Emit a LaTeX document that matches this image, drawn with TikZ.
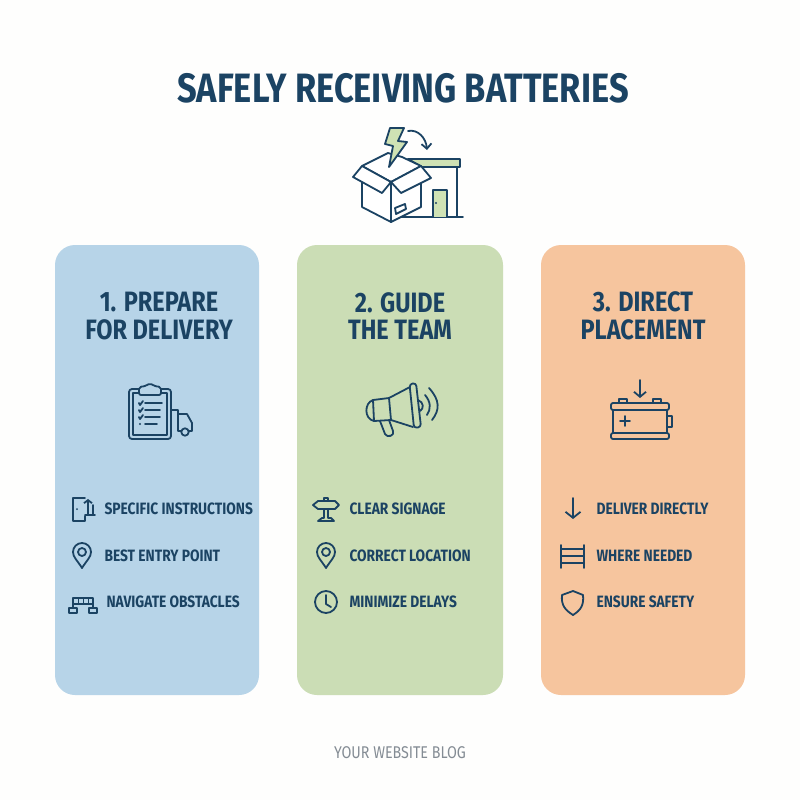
\documentclass[tikz,border=0pt]{standalone}
\usepackage{fontspec}
\setmainfont{Fira Sans}[FakeStretch=0.84]
\usetikzlibrary{arrows.meta,positioning}
\definecolor{inkblue}{HTML}{1B4363}
\definecolor{cardblue}{HTML}{B7D4E8}
\definecolor{cardgreen}{HTML}{CBDDB5}
\definecolor{cardorange}{HTML}{F6C59E}
\definecolor{iconlime}{HTML}{CFE2B4}
\definecolor{footgray}{HTML}{848C94}
\tikzset{
    card/.style={draw=none, rounded corners=20pt},
    icon/.style={draw=inkblue, line width=1.8pt, line join=round, line cap=round},
    headline/.style={text=inkblue, font=\bfseries\fontsize{28}{27.5}\selectfont, align=center},
    item/.style={text=inkblue, anchor=west, font=\bfseries\fontsize{16.4}{18}\selectfont},
}
\begin{document}
\begin{tikzpicture}[x=1pt,y=-1pt]
    \useasboundingbox (0,0) rectangle (800,800);
    \fill[white!98!cardgreen] (0,0) rectangle (800,800);

    % Title
    \node[text=inkblue, font=\bfseries\fontsize{41}{42}\selectfont] (title) at (403,88) {SAFELY RECEIVING BATTERIES};

    % Top icon
    \draw[icon, fill=iconlime] (408,159) -- (460,159) -- (460,167) -- (422,167) -- cycle;
    \draw[icon] (457,167) -- (457,217);
    \draw[icon] (397,217) -- (463,217);
    \draw[icon, fill=iconlime] (433,217) -- (433,190) -- (447,190) -- (447,217);
    \fill[inkblue] (436,203) circle (1.2);
    \draw[icon, fill=white] (362,166) -- (388,153) -- (402,157) -- (421,166) -- (391,182) -- cycle;
    \draw[icon, fill=white] (362,177) -- (362,207) -- (391,222) -- (421,207) -- (421,177) -- (391,182) -- cycle;
    \draw[icon] (391,182) -- (391,222);
    \draw[icon, fill=white] (362,166) -- (391,182) -- (382,193) -- (353,177) -- cycle;
    \draw[icon, fill=white] (421,166) -- (391,182) -- (401,193) -- (431,178) -- cycle;
    \draw[icon] (395,208) -- (405,204) -- (406,209) -- (396,214) -- cycle;
    \draw[icon, fill=iconlime] (390,128) -- (404,128) -- (398,141) -- (407,142) -- (389,167) -- (393,146) -- (385,144) -- cycle;
    \draw[icon, -{Straight Barb[length=5pt,width=10pt]}] (408,131) .. controls (418,129) and (426,138) .. (427,150);

    % Cards
    \fill[card, cardblue] (55,245) rectangle (259,695);
    \fill[card, cardgreen] (297,245) rectangle (503,695);
    \fill[card, cardorange] (541,245) rectangle (745,695);

    \node[headline] (headA) at (159,316) {1. PREPARE\\FOR DELIVERY};
    \node[headline] (headB) at (400,316) {2. GUIDE\\THE TEAM};
    \node[headline] (headC) at (643,316) {3. DIRECT\\PLACEMENT};

    % Clipboard and truck
    \draw[icon, rounded corners=3pt] (129,389) rectangle (171,439);
    \draw[icon] (133,393) rectangle (167,435);
    \draw[icon, fill=cardblue, rounded corners=2pt] (139,395) -- (139,387) -- (146,386) -- (150,383) -- (154,386) -- (161,387) -- (161,395) -- cycle;
    \draw[icon] (145,403) -- (162,403);
    \draw[icon] (145,410) -- (160,410);
    \draw[icon] (145,417) -- (160,417);
    \draw[icon] (145,424) -- (157,424);
    \draw[icon] (139,403) -- (140,405) -- (143,401);
    \draw[icon] (139,410) -- (140,412) -- (143,408);
    \draw[icon] (139,417) -- (140,419) -- (143,415);
    \fill[inkblue] (140,424) circle (1.2);
    \draw[icon] (171,410) -- (178,410) -- (178,431) -- (181,431);
    \draw[icon] (179,414) -- (187,414) -- (192,423) -- (192,431) -- (189,431);
    \draw[icon] (185,432) circle (3.7);

    % Megaphone
    \draw[icon] (389,398) -- (373,400) .. controls (364,403) and (364,419) .. (374,421) -- (391,420) -- cycle;
    \draw[icon] (373,400) -- (374,421);
    \draw[icon] (389,398) -- (410,387);
    \draw[icon] (391,420) -- (413,427);
    \draw[icon, rounded corners=3pt] (409.5,384) -- (416,383) -- (421,427) -- (414,428) -- cycle;
    \draw[icon] (418,400) .. controls (424,402) and (424,409) .. (420,411);
    \draw[icon] (380,421) -- (385,434) .. controls (387,438) and (395,436) .. (393,431) -- (389,420);
    \draw[icon] (425,395) .. controls (431,402) and (431,409) .. (427,415);
    \draw[icon] (429,388) .. controls (440,400) and (440,410) .. (432,420);

    % Battery
    \draw[icon, rounded corners=2pt] (611,403) rectangle (669,410);
    \draw[icon] (613,410) rectangle (667,433);
    \draw[icon, rounded corners=2pt] (611,433) rectangle (669,439);
    \draw[icon] (619,403) -- (619,399) -- (627,399) -- (627,403);
    \draw[icon] (653,403) -- (653,399) -- (661,399) -- (661,403);
    \draw[icon] (667,416) -- (672,416) -- (672,427) -- (667,427);
    \draw[icon] (620,421) -- (630,421);
    \draw[icon] (625,416) -- (625,426);
    \draw[icon, -{Straight Barb[length=5pt,width=12pt]}] (640,380) -- (640,398);

    % First list
    \node[item] (itemAa) at (101,509) {SPECIFIC INSTRUCTIONS};
    \node[item] (itemAb) at (101,556) {BEST ENTRY POINT};
    \node[item] (itemAc) at (103,602) {NAVIGATE OBSTACLES};

    \draw[icon] (85,498) -- (73,498) -- (73,521) -- (85,521) -- (85,516);
    \fill[inkblue] (77,509) circle (1);
    \draw[icon, -{Straight Barb[length=3pt,width=8pt]}] (88,515) -- (88,499);
    \draw[icon] (93,505) -- (93,515);
    \draw[icon] (85,515) -- (95,515);

    \draw[icon] (82,568) .. controls (77,560) and (73,557) .. (73,552) arc (180:360:9) .. controls (91,557) and (87,560) .. (82,568) -- cycle;
    \draw[icon] (82,552) circle (4);

    \draw[icon] (73,608) -- (73,598) -- (93,598) -- (93,608);
    \draw[icon] (73,604) -- (93,604);
    \foreach \tickx in {78,83,88} {
        \draw[inkblue, line width=1pt] (\tickx,598) -- (\tickx,604);
    }
    \draw[icon] (69,608) rectangle (77,613);
    \draw[icon] (89,608) rectangle (97,613);

    % Second list
    \node[item] (itemBa) at (346,509) {CLEAR SIGNAGE};
    \node[item] (itemBb) at (346,556) {CORRECT LOCATION};
    \node[item] (itemBc) at (346,602) {MINIMIZE DELAYS};

    \draw[icon] (313,505) -- (318,501) -- (335,501) -- (339,505) -- (335,509) -- (318,509) -- cycle;
    \draw[icon] (324,501) -- (324,498) -- (328,498) -- (328,501);
    \draw[icon] (324,509) -- (324,518) -- (322,518) -- (318,521) -- (334,521) -- (331,518) -- (328,518) -- (328,509);

    \draw[icon] (326,568) .. controls (321,560) and (317,557) .. (317,552) arc (180:360:9) .. controls (335,557) and (331,560) .. (326,568) -- cycle;
    \draw[icon] (326,552) circle (4);

    \draw[icon] (326,602) circle (11);
    \draw[icon] (326,595) -- (326,604) -- (331,607);

    % Third list
    \node[item] (itemCa) at (593,509) {DELIVER DIRECTLY};
    \node[item] (itemCb) at (593,556) {WHERE NEEDED};
    \node[item] (itemCc) at (593,602) {ENSURE SAFETY};

    \draw[icon, -{Straight Barb[length=6pt,width=15pt]}] (573,498) -- (573,519);

    \draw[icon] (561,545) -- (561,568);
    \draw[icon] (584,545) -- (584,568);
    \foreach \rungy in {549,556,563} {
        \draw[icon] (561,\rungy) -- (584,\rungy);
    }

    \draw[icon] (562,595) -- (573,591) -- (583,595) .. controls (584,605) and (581,610) .. (573,615) .. controls (565,610) and (561,605) .. (562,595) -- cycle;

    % Footer
    \node[text=footgray, font=\fontsize{17}{18}\selectfont] (footer) at (400,753) {YOUR WEBSITE BLOG};
\end{tikzpicture}
\end{document}
